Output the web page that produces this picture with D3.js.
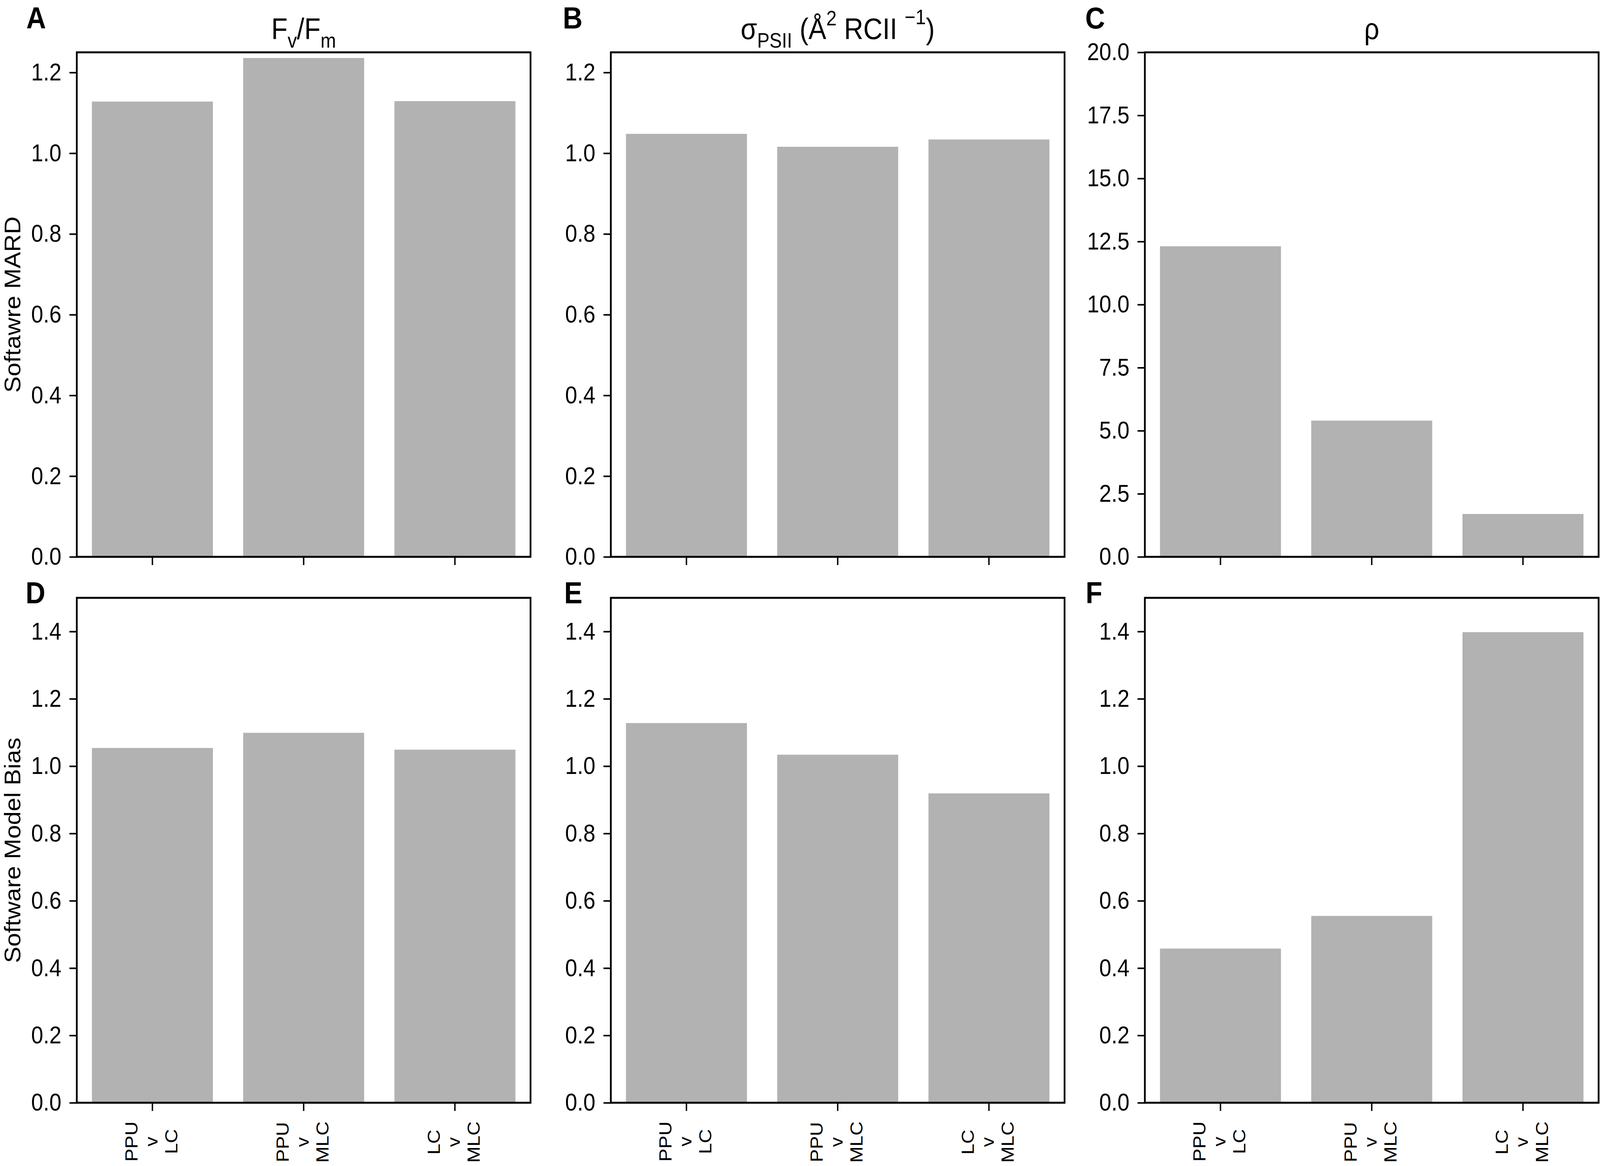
<!DOCTYPE html>
<html>
<head>
<meta charset="utf-8">
<script src="https://cdn.jsdelivr.net/npm/d3@7"></script>
<style>
  html, body { margin: 0; padding: 0; background: #fff; overflow: hidden; }
  #chart { display: block; width: 100vw; height: 100vh; }
  text { font-family: "Liberation Sans", Arial, sans-serif; fill: #000; }
</style>
</head>
<body>
<svg id="chart" viewBox="0 0 4563 2986" preserveAspectRatio="none"></svg>
<script>
// data
var categories = ["PPU\nv\nLC", "PPU\nv\nMLC", "LC\nv\nMLC"];

var fvfmMard  = [1.128, 1.236, 1.129];
var sigmaMard = [1.048, 1.016, 1.034];
var rhoMard   = [12.31, 5.40, 1.70];

var fvfmBias  = [1.054, 1.099, 1.049];
var sigmaBias = [1.128, 1.034, 0.919];
var rhoBias   = [0.458, 0.555, 1.398];

var mardTicks = [0.0, 0.2, 0.4, 0.6, 0.8, 1.0, 1.2];
var rhoTicks  = [0.0, 2.5, 5.0, 7.5, 10.0, 12.5, 15.0, 17.5, 20.0];
var biasTicks = [0.0, 0.2, 0.4, 0.6, 0.8, 1.0, 1.2, 1.4];

var rowLabels = ["Softawre MARD", "Software Model Bias"];
var panelLetters = ["A", "B", "C", "D", "E", "F"];

// layout
var colLeft = [219, 1742, 3265];
var colWidth = 1294;
var rowTop = [134, 1531];
var rowBottom = [1426, 2824];
var letterX = [75, 1605, 3095, 73, 1609, 3096];
var letterY = [73, 73, 73, 1545, 1545, 1545];

var panels = [
  { values: fvfmMard,  domain: [0, 1.25], ticks: mardTicks, title: "fvfm",  col: 0, row: 0 },
  { values: sigmaMard, domain: [0, 1.25], ticks: mardTicks, title: "sigma", col: 1, row: 0 },
  { values: rhoMard,   domain: [0, 20],   ticks: rhoTicks,  title: "rho",   col: 2, row: 0 },
  { values: fvfmBias,  domain: [0, 1.5],  ticks: biasTicks, title: null,    col: 0, row: 1 },
  { values: sigmaBias, domain: [0, 1.5],  ticks: biasTicks, title: null,    col: 1, row: 1 },
  { values: rhoBias,   domain: [0, 1.5],  ticks: biasTicks, title: null,    col: 2, row: 1 }
];

var svg = d3.select("#chart");
var barColor = "#b2b2b2";
var tickFont = 62, xTickFont = 50, titleFont = 76, subFont = 53;

panels.forEach(function(p, i) {
  var left = colLeft[p.col], top = rowTop[p.row];
  var w = colWidth, h = rowBottom[p.row] - top;

  var g = svg.append("g")
             .attr("class", "panel-" + panelLetters[i])
             .attr("transform", "translate(" + left + "," + top + ")");

  var x = d3.scaleBand()
            .domain(categories)
            .range([0, w])
            .paddingInner(0.2)
            .paddingOuter(0.1);

  var y = d3.scaleLinear()
            .domain(p.domain)
            .range([h, 0]);

  // bars
  g.selectAll("rect.bar")
   .data(p.values)
   .enter().append("rect")
   .attr("class", "bar")
   .attr("x", function(d, j) { return x(categories[j]); })
   .attr("width", x.bandwidth())
   .attr("y", function(d) { return y(d); })
   .attr("height", function(d) { return y(0) - y(d); })
   .attr("fill", barColor);

  // y axis
  var yAxis = d3.axisLeft(y)
                .tickValues(p.ticks)
                .tickSize(21)
                .tickPadding(23)
                .tickFormat(d3.format(".1f"));
  var ya = g.append("g").call(yAxis);
  ya.select(".domain").remove();
  ya.selectAll(".tick line").attr("stroke", "#000").attr("stroke-width", 4);
  ya.selectAll(".tick text")
    .style("font-size", tickFont + "px")
    .attr("fill", "#000");

  // x axis ticks
  var xAxis = d3.axisBottom(x).tickSize(21).tickFormat("");
  var xa = g.append("g")
            .attr("transform", "translate(0," + h + ")")
            .call(xAxis);
  xa.select(".domain").remove();
  xa.selectAll(".tick line").attr("stroke", "#000").attr("stroke-width", 4);

  // frame
  g.append("rect")
   .attr("width", w)
   .attr("height", h)
   .attr("fill", "none")
   .attr("stroke", "#000")
   .attr("stroke-width", 5);

  // rotated multi-line category labels on the bottom row
  if (p.row === 1) {
    categories.forEach(function(cat) {
      var lines = cat.split("\n");
      var lg = g.append("g")
                .attr("transform", "translate(" + (x(cat) + x.bandwidth() / 2) + "," + (h + 48) + ") rotate(-90)");
      var tspans = lines.map(function(line, k) {
        return lg.append("text")
                 .attr("y", -43 + k * 57)
                 .attr("text-anchor", "middle")
                 .style("font-size", xTickFont + "px")
                 .text(line);
      });
      var blockLen = d3.max(tspans, function(t) { return t.node().getComputedTextLength(); });
      tspans.forEach(function(t) { t.attr("x", -blockLen / 2); });
    });
  }

  // titles
  if (p.title) {
    var t = g.append("text")
             .attr("x", w / 2)
             .attr("y", -34)
             .attr("text-anchor", "middle")
             .style("font-size", titleFont + "px");
    if (p.title === "fvfm") {
      t.append("tspan").text("F");
      t.append("tspan").attr("dy", 22).style("font-size", subFont + "px").text("v");
      t.append("tspan").attr("dy", -22).text("/F");
      t.append("tspan").attr("dy", 22).style("font-size", subFont + "px").text("m");
    } else if (p.title === "sigma") {
      t.append("tspan").text("σ");
      t.append("tspan").attr("dy", 22).style("font-size", subFont + "px").text("PSII");
      t.append("tspan").attr("dy", -22).text(" (Å");
      t.append("tspan").attr("dy", -35).style("font-size", subFont + "px").text("2");
      t.append("tspan").attr("dy", 35).text(" RCII ");
      t.append("tspan").attr("dy", -38).style("font-size", subFont + "px").text("\u22121");
      t.append("tspan").attr("dy", 38).text(")");
    } else {
      t.text("ρ");
    }
  }

  // panel letter
  svg.append("text")
     .attr("x", letterX[i])
     .attr("y", letterY[i])
     .style("font-size", "78px")
     .style("font-weight", "bold")
     .text(panelLetters[i]);
});

// row y-axis labels
rowLabels.forEach(function(label, r) {
  var cy = (rowTop[r] + rowBottom[r]) / 2;
  svg.append("text")
     .attr("transform", "translate(58," + cy + ") rotate(-90)")
     .attr("text-anchor", "middle")
     .style("font-size", "63px")
     .text(label);
});
</script>
</body>
</html>
